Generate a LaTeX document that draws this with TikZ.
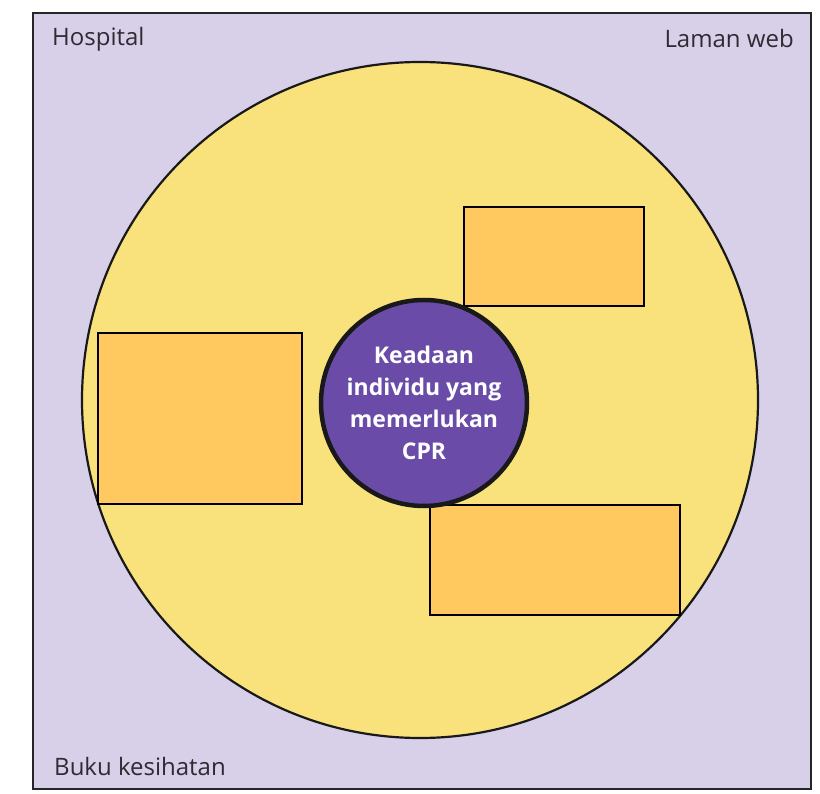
\documentclass[tikz,border=0pt]{standalone}
\usepackage{fontspec}
\setmainfont{Open Sans}
\definecolor{lilac}{HTML}{D7D0E8}
\definecolor{sun}{HTML}{F9E17C}
\definecolor{card}{HTML}{FFC95F}
\definecolor{violet}{HTML}{6A4CA8}
\definecolor{inkgrey}{HTML}{2E2B33}
\tikzset{
  frame/.style={draw=black!85, line width=1.8pt, fill=lilac},
  disc/.style={draw=black!90, line width=2.2pt, fill=sun},
  blankcard/.style={draw=black, line width=1.8pt, fill=card},
  core/.style={draw=black!90, line width=4.5pt, fill=violet},
  corner/.style={text=inkgrey, font=\fontsize{24}{28}\selectfont, inner sep=0pt},
  coretext/.style={text=white, align=center, font=\bfseries\fontsize{23}{32}\selectfont}
}
\begin{document}
\begin{tikzpicture}[x=1pt, y=-1pt]
  \useasboundingbox[fill=white] (0,0) rectangle (820,794);
  % outer panel
  \draw[frame] (33,13) rectangle (811,789);
  % large circle
  \draw[disc] (420,400) circle[radius=338];
  % empty answer boxes
  \node[blankcard, minimum width=204pt, minimum height=171pt, inner sep=0pt, anchor=north west] (boxL) at (97,332) {};
  \node[blankcard, minimum width=180pt, minimum height=99pt, inner sep=0pt, anchor=north west] (boxT) at (463,206) {};
  \node[blankcard, minimum width=250pt, minimum height=110pt, inner sep=0pt, anchor=north west] (boxB) at (429,504) {};
  % centre circle
  \node[core, circle, minimum size=206pt, inner sep=0pt] (centre) at (424,403) {};
  \node[coretext] (centretext) at (424,403) {Keadaan\\individu yang\\memerlukan\\CPR};
  % corner labels
  \node[corner, anchor=west] (hosp) at (52,39) {Hospital};
  \node[corner, anchor=east] (web) at (794,39) {Laman web};
  \node[corner, anchor=west] (buku) at (54,766) {Buku kesihatan};
\end{tikzpicture}
\end{document}
